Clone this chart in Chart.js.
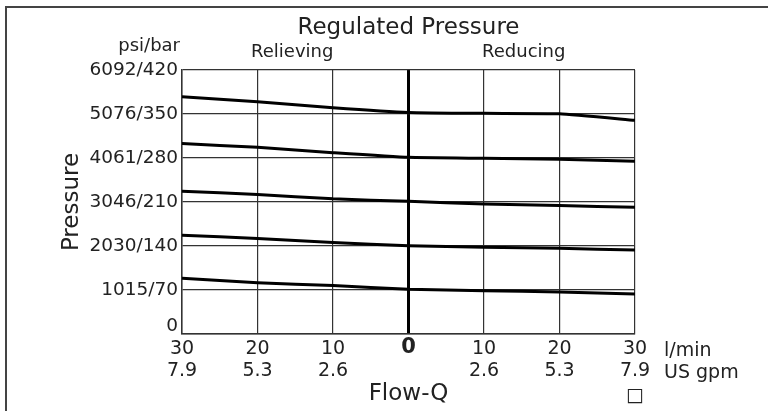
<!DOCTYPE html>
<html>
<head>
<meta charset="utf-8">
<script src="https://cdn.jsdelivr.net/npm/chart.js@4/dist/chart.umd.min.js"></script>
<style>
  html, body { margin: 0; padding: 0; background: #fff; }
  canvas { display: block; }
</style>
</head>
<body>
<canvas id="c" width="768" height="411"></canvas>
<script>
// Flow positions: negative = relieving side, positive = reducing side (l/min)
const flow = [-30, -20, -10, 0, 10, 20, 30];
const lpmLabels = { '-30': '30', '-20': '20', '-10': '10', '0': '0', '10': '10', '20': '20', '30': '30' };
const gpmLabels = { '-30': '7.9', '-20': '5.3', '-10': '2.6', '0': '', '10': '2.6', '20': '5.3', '30': '7.9' };
// Pressure ticks (bar) and psi/bar labels
const barTicks = [0, 70, 140, 210, 280, 350, 420];
const pressureLabels = ['0', '1015/70', '2030/140', '3046/210', '4061/280', '5076/350', '6092/420'];
// Regulated pressure curves (bar)
const curve350 = [377.5, 369.5, 360, 352.5, 351, 350.3, 340];
const curve280 = [303, 297, 288.5, 281, 279.5, 278, 275];
const curve210 = [227, 222, 215, 211, 207, 204.5, 201.5];
const curve140 = [157, 152, 145.5, 140.5, 138, 136.3, 133.5];
const curve70  = [88.5, 81.5, 77, 71, 69, 67, 63.5];

const curves = [curve350, curve280, curve210, curve140, curve70];
const FONT = '"DejaVu Sans", sans-serif';
const TXT = '#222';

const datasets = curves.map(vals => ({
  data: flow.map((x, i) => ({ x: x, y: vals[i] })),
  borderColor: '#000',
  borderWidth: 3,
  pointRadius: 0,
  tension: 0.15,
  fill: false
}));

const extraText = {
  id: 'extraText',
  beforeDraw(chart) {
    const ctx = chart.ctx;
    ctx.save();
    ctx.fillStyle = '#fff';
    ctx.fillRect(0, 0, chart.width, chart.height);
    ctx.restore();
  },
  afterDraw(chart) {
    const ctx = chart.ctx;
    const a = chart.chartArea;
    const cx = (a.left + a.right) / 2;
    ctx.save();
    // outer frame (left and top edges)
    ctx.strokeStyle = '#444';
    ctx.lineWidth = 2;
    ctx.beginPath();
    ctx.moveTo(6, 411);
    ctx.lineTo(6, 7);
    ctx.lineTo(768, 7);
    ctx.stroke();

    ctx.fillStyle = TXT;
    ctx.textBaseline = 'alphabetic';
    ctx.textAlign = 'center';
    ctx.font = '23px ' + FONT;
    ctx.fillText('Regulated Pressure', cx, 34);
    ctx.font = '18px ' + FONT;
    ctx.fillText('Relieving', (a.left + cx) / 2 - 3, 57);
    ctx.fillText('Reducing', (cx + a.right) / 2 + 2, 57);
    ctx.textAlign = 'right';
    ctx.fillText('psi/bar', 180, 51);
    ctx.textAlign = 'left';
    ctx.font = '19px ' + FONT;
    ctx.fillText('l/min', 664, 356);
    ctx.fillText('US gpm', 664, 378);
    ctx.textAlign = 'center';
    ctx.font = '23px ' + FONT;
    ctx.fillText('Flow-Q', cx, 400);
    ctx.font = '19px ' + FONT;
    ctx.fillText('\u25A1', 635, 401);
    // rotated axis title
    ctx.translate(78, (a.top + a.bottom) / 2);
    ctx.rotate(-Math.PI / 2);
    ctx.font = '23px ' + FONT;
    ctx.fillText('Pressure', 0, 0);
    ctx.restore();
  }
};

new Chart(document.getElementById('c'), {
  type: 'line',
  data: { datasets: datasets },
  plugins: [extraText],
  options: {
    responsive: false,
    devicePixelRatio: 1,
    animation: false,
    layout: { padding: { top: 70, right: 133, left: 0, bottom: 0 } },
    plugins: { legend: { display: false }, tooltip: { enabled: false }, title: { display: false } },
    scales: {
      x: {
        type: 'linear',
        min: -30, max: 30,
        afterBuildTicks(scale) { scale.ticks = flow.map(v => ({ value: v })); },
        afterFit(scale) { scale.height = 77; },
        grid: {
          color: ctx => (ctx.tick && ctx.tick.value === 0) ? '#000' : '#333',
          lineWidth: ctx => (ctx.tick && ctx.tick.value === 0) ? 3 : 1.2,
          drawTicks: false
        },
        border: { display: true, color: '#333', width: 1.5 },
        ticks: {
          padding: 4,
          color: TXT,
          maxRotation: 0,
          autoSkip: false,
          font: ctx => (ctx.tick && ctx.tick.value === 0)
            ? { family: FONT, size: 21, weight: 'bold', lineHeight: 20 / 21 }
            : { family: FONT, size: 19, lineHeight: 22 / 19 },
          callback: v => {
            const k = String(v);
            return v === 0 ? lpmLabels[k] : [lpmLabels[k], gpmLabels[k]];
          }
        }
      },
      y: {
        type: 'linear',
        min: 0, max: 420,
        afterBuildTicks(scale) { scale.ticks = barTicks.map(v => ({ value: v })); },
        afterFit(scale) { scale.width = 182; },
        grid: { color: '#333', lineWidth: 1.2, drawTicks: false },
        border: { display: true, color: '#333', width: 1.5 },
        ticks: {
          padding: 4,
          color: TXT,
          autoSkip: false,
          font: ctx => (ctx.tick && ctx.tick.value === 0)
            ? { family: FONT, size: 18.5, lineHeight: 16 / 18.5 }
            : { family: FONT, size: 18.5 },
          callback: v => {
            const lbl = pressureLabels[barTicks.indexOf(v)];
            return v === 0 ? [lbl, ''] : lbl;
          }
        }
      }
    }
  }
});
</script>
</body>
</html>
